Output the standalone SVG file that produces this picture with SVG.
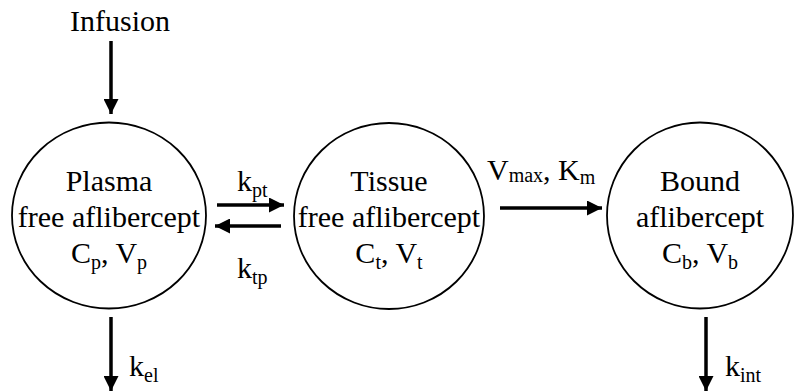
<svg xmlns="http://www.w3.org/2000/svg" id="d" width="794" height="392" viewBox="0 0 794 392">
<defs>
<style>
svg#d g#plasma text, svg#d g#tissue text, svg#d g#bound text, svg#d g#infusion text, svg#d g#labels text, svg#d g text tspan{font-family:'Liberation Serif','Times New Roman',serif !important}
</style>
<marker id="ah" viewBox="0 0 10 10" refX="10" refY="5" markerWidth="15" markerHeight="15" markerUnits="userSpaceOnUse" orient="auto">
<path d="M0,0 L10,5 L0,10 Z" fill="#000"/>
</marker>
</defs>
<g id="plasma">
<ellipse cx="109" cy="215.5" rx="97" ry="93" fill="#fff" stroke="#000" stroke-width="1.8"/>
<text font-family="Liberation Serif" font-size="30" x="109" y="191" text-anchor="middle">Plasma</text>
<text font-family="Liberation Serif" font-size="30" x="109" y="227" text-anchor="middle">free aflibercept</text>
<text font-family="Liberation Serif" font-size="30" x="109" y="263" text-anchor="middle">C<tspan font-size="20" dy="6">p</tspan><tspan dy="-6">, V</tspan><tspan font-size="20" dy="6">p</tspan></text>
</g>
<g id="tissue">
<ellipse cx="389" cy="216" rx="95" ry="93" fill="#fff" stroke="#000" stroke-width="1.8"/>
<text font-family="Liberation Serif" font-size="30" x="389" y="191" text-anchor="middle">Tissue</text>
<text font-family="Liberation Serif" font-size="30" x="389" y="227" text-anchor="middle">free aflibercept</text>
<text font-family="Liberation Serif" font-size="30" x="389" y="263" text-anchor="middle">C<tspan font-size="20" dy="6">t</tspan><tspan dy="-6">, V</tspan><tspan font-size="20" dy="6">t</tspan></text>
</g>
<g id="bound">
<ellipse cx="700" cy="215.5" rx="93" ry="93" fill="#fff" stroke="#000" stroke-width="1.8"/>
<text font-family="Liberation Serif" font-size="30" x="700" y="191" text-anchor="middle">Bound</text>
<text font-family="Liberation Serif" font-size="30" x="700" y="227" text-anchor="middle">aflibercept</text>
<text font-family="Liberation Serif" font-size="30" x="700" y="263" text-anchor="middle">C<tspan font-size="20" dy="6">b</tspan><tspan dy="-6">, V</tspan><tspan font-size="20" dy="6">b</tspan></text>
</g>
<g id="infusion">
<text font-family="Liberation Serif" font-size="30" x="120" y="31" text-anchor="middle">Infusion</text>
</g>
<g id="connectors" stroke="#000" stroke-width="3.5" fill="none">
<line x1="111" y1="41" x2="111" y2="114" marker-end="url(#ah)"/>
<line x1="217" y1="205" x2="284" y2="205" marker-end="url(#ah)"/>
<line x1="281" y1="226" x2="215" y2="226" marker-end="url(#ah)"/>
<line x1="500" y1="208" x2="602" y2="208" marker-end="url(#ah)"/>
<line x1="111" y1="317" x2="111" y2="391" marker-end="url(#ah)"/>
<line x1="706" y1="317" x2="706" y2="391" marker-end="url(#ah)"/>
</g>
<g id="labels">
<text font-family="Liberation Serif" font-size="30" x="237" y="191">k<tspan font-size="20" dy="6">pt</tspan></text>
<text font-family="Liberation Serif" font-size="30" x="237" y="278">k<tspan font-size="20" dy="6">tp</tspan></text>
<text font-family="Liberation Serif" font-size="30" x="487" y="180">V<tspan font-size="20" dy="2">max</tspan><tspan dy="-2">, K</tspan><tspan font-size="20" dy="4">m</tspan></text>
<text font-family="Liberation Serif" font-size="30" x="129" y="376">k<tspan font-size="20" dy="6">el</tspan></text>
<text font-family="Liberation Serif" font-size="30" x="725" y="376">k<tspan font-size="20" dy="6">int</tspan></text>
</g>
</svg>
